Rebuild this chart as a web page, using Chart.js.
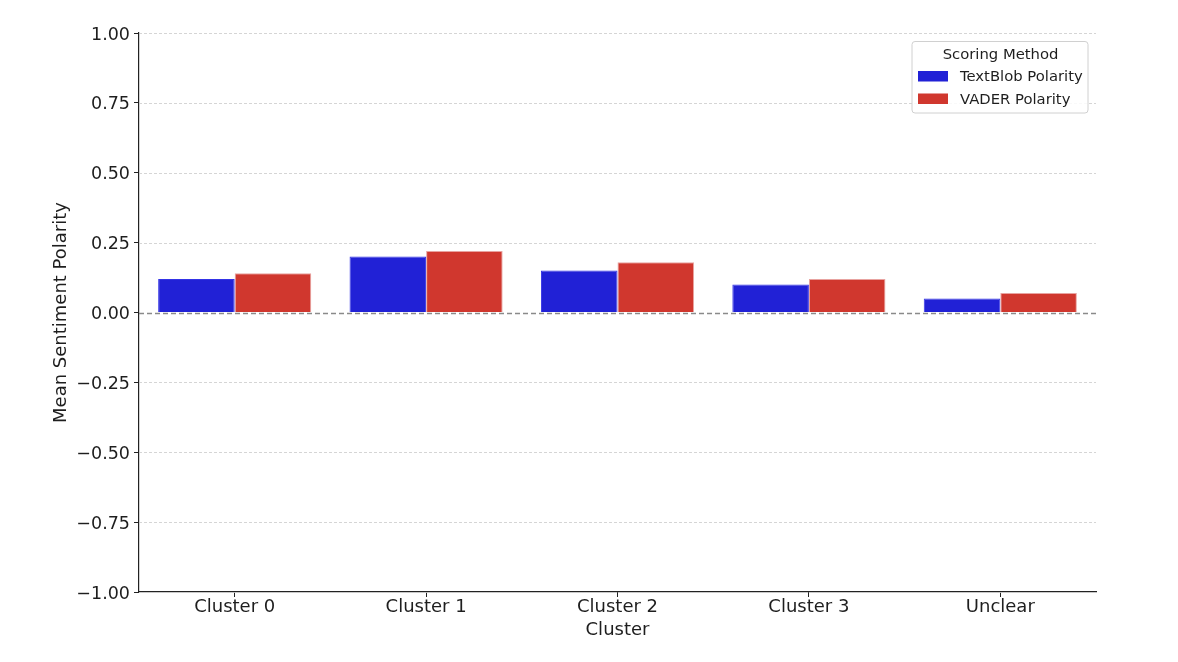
<!DOCTYPE html>
<html>
<head>
<meta charset="utf-8">
<script src="https://cdn.jsdelivr.net/npm/chart.js@4/dist/chart.umd.min.js"></script>
<style>
html,body{margin:0;padding:0;background:#fff;}
canvas{display:block;}
</style>
</head>
<body>
<canvas id="c" width="1178" height="662"></canvas>
<script>
const categories = ["Cluster 0", "Cluster 1", "Cluster 2", "Cluster 3", "Unclear"];
const textblobValues = [0.12, 0.20, 0.15, 0.10, 0.05];
const vaderValues = [0.14, 0.22, 0.18, 0.12, 0.07];
const seriesNames = ["TextBlob Polarity", "VADER Polarity"];
const legendTitle = "Scoring Method";
const xTitle = "Cluster";
const yTitle = "Mean Sentiment Polarity";
const yMin = -1, yMax = 1, yStep = 0.25;

const FONT = "'DejaVu Sans', sans-serif";
const TEXT = "#1e1e1e";

const gridPlugin = {
  id: 'gridPlugin',
  beforeDatasetsDraw(chart) {
    const {ctx, chartArea, scales} = chart;
    const y = scales.y;
    ctx.save();
    ctx.strokeStyle = '#cacaca';
    ctx.lineWidth = 0.8;
    ctx.setLineDash([3, 2]);
    y.ticks.forEach(t => {
      if (Math.abs(t.value) < 1e-9) return;
      const py = Math.round(y.getPixelForValue(t.value)) + 0.5;
      ctx.beginPath();
      ctx.moveTo(chartArea.left, py);
      ctx.lineTo(chartArea.right, py);
      ctx.stroke();
    });
    ctx.restore();
  },
  afterDatasetsDraw(chart) {
    const {ctx, chartArea, scales} = chart;
    const py = Math.round(scales.y.getPixelForValue(0)) + 0.5;
    ctx.save();
    ctx.strokeStyle = '#8a8a8a';
    ctx.lineWidth = 1.3;
    ctx.setLineDash([5, 3]);
    ctx.beginPath();
    ctx.moveTo(chartArea.left, py);
    ctx.lineTo(chartArea.right, py);
    ctx.stroke();
    ctx.restore();

    // legend box
    const bx = 912, by = 41.5, bw = 176, bh = 71.5, r = 3;
    ctx.save();
    ctx.fillStyle = 'rgba(255,255,255,0.85)';
    ctx.strokeStyle = '#d0d0d0';
    ctx.lineWidth = 1;
    ctx.beginPath();
    ctx.moveTo(bx + r, by);
    ctx.lineTo(bx + bw - r, by);
    ctx.arcTo(bx + bw, by, bx + bw, by + r, r);
    ctx.lineTo(bx + bw, by + bh - r);
    ctx.arcTo(bx + bw, by + bh, bx + bw - r, by + bh, r);
    ctx.lineTo(bx + r, by + bh);
    ctx.arcTo(bx, by + bh, bx, by + bh - r, r);
    ctx.lineTo(bx, by + r);
    ctx.arcTo(bx, by, bx + r, by, r);
    ctx.closePath();
    ctx.fill();
    ctx.stroke();
    ctx.fillStyle = TEXT;
    ctx.font = "14.8px " + FONT;
    ctx.textAlign = 'center';
    ctx.textBaseline = 'middle';
    ctx.fillText(legendTitle, bx + bw / 2 + 0.5, 55);
    ctx.textAlign = 'left';
    chart.data.datasets.forEach((ds, i) => {
      const sy = 71 + i * 22.5;
      ctx.fillStyle = ds.backgroundColor;
      ctx.fillRect(918, sy, 30, 10.5);
      ctx.fillStyle = TEXT;
      ctx.fillText(ds.label, 960, sy + 6.5);
    });
    ctx.restore();
  }
};

function fmt(v) {
  const s = Math.abs(v).toFixed(2);
  return (v < -1e-9 ? "\u2212" : "") + s;
}

new Chart(document.getElementById('c'), {
  type: 'bar',
  data: {
    labels: categories,
    datasets: [
      { label: seriesNames[0], data: textblobValues, backgroundColor: '#2121d6', borderColor: '#3434e6', borderWidth: 1 },
      { label: seriesNames[1], data: vaderValues, backgroundColor: '#d0372e', borderColor: '#e8a3a0', borderWidth: 1 }
    ]
  },
  options: {
    responsive: false,
    animation: false,
    layout: { padding: { top: 33, right: 82, left: 0, bottom: 0 } },
    plugins: { legend: { display: false }, tooltip: { enabled: false } },
    datasets: { bar: { categoryPercentage: 0.8, barPercentage: 1.0 } },
    scales: {
      x: {
        grid: { display: true, drawOnChartArea: false, drawTicks: true, tickLength: 5, tickColor: '#222', offset: false },
        border: { display: true, color: '#222', width: 1.2 },
        ticks: { color: TEXT, font: { family: FONT, size: 18 }, padding: 0 },
        title: { display: true, text: xTitle, color: TEXT, font: { family: FONT, size: 18 }, padding: { top: 0, bottom: 21 } },
        afterFit(s) { s.height = 70; }
      },
      y: {
        min: yMin, max: yMax,
        grid: { display: true, drawOnChartArea: false, drawTicks: true, tickLength: 5, tickColor: '#222' },
        border: { display: true, color: '#222', width: 1.2 },
        ticks: { stepSize: yStep, color: TEXT, font: { family: FONT, size: 17.5 }, padding: 4, labelOffset: 2, callback: v => fmt(v) },
        title: { display: true, text: yTitle, color: TEXT, font: { family: FONT, size: 18 }, padding: { top: 51, bottom: 0 } },
        afterFit(s) { s.width = 139; }
      }
    }
  },
  plugins: [gridPlugin]
});
</script>
</body>
</html>
